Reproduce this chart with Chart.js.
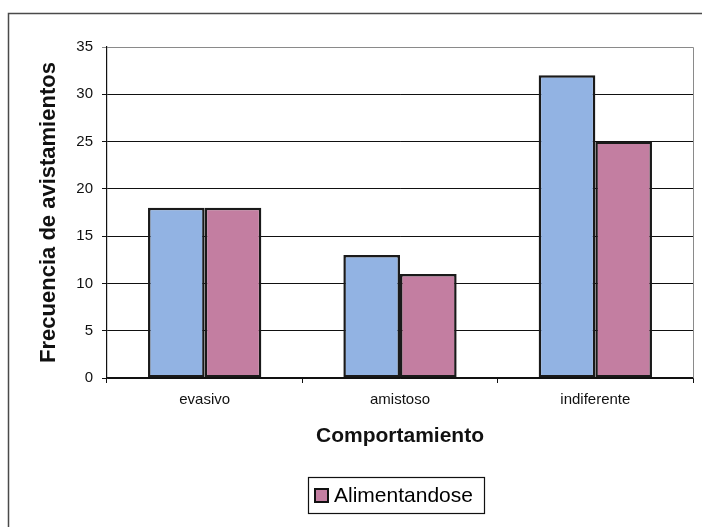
<!DOCTYPE html>
<html>
<head>
<meta charset="utf-8">
<script src="https://cdn.jsdelivr.net/npm/chart.js@4/dist/chart.umd.min.js"></script>
<style>
  html, body { margin: 0; padding: 0; background: #ffffff; }
  #wrap { width: 702px; height: 527px; }
</style>
</head>
<body>
<div id="wrap"><canvas id="c" width="702" height="527"></canvas></div>
<script>
// Categorías del eje X
const categorias = ['evasivo', 'amistoso', 'indiferente'];
// Serie azul (sin entrada en la leyenda)
const serieAzul = [18, 13, 32];
// Serie "Alimentandose"
const serieAlimentandose = [18, 11, 25];
const nombreSerieAzul = 'Serie1';
const nombreSerieRosa = 'Alimentandose';
// Eje Y
const ejeYMin = 0;
const ejeYMax = 35;
const ejeYPaso = 5;
const tituloEjeY = 'Frecuencia de avistamientos';
const tituloEjeX = 'Comportamiento';

const AZUL = '#92b3e3';
const ROSA = '#c37ea1';
const FUENTE = '"Liberation Sans", Arial, Helvetica, sans-serif';

// Marco exterior del gráfico y recuadro de la leyenda
const marcoYLeyenda = {
  id: 'marcoYLeyenda',
  afterDraw(chart) {
    const ctx = chart.ctx;
    const area = chart.chartArea;
    ctx.save();
    // borde del área de trazado (arriba y derecha)
    ctx.strokeStyle = '#8a8a8a';
    ctx.lineWidth = 1;
    ctx.beginPath();
    ctx.moveTo(area.left, area.top + 0.5);
    ctx.lineTo(area.right + 0.5, area.top + 0.5);
    ctx.lineTo(area.right + 0.5, area.bottom);
    ctx.stroke();

    // marco exterior
    ctx.strokeStyle = '#4a4a4a';
    ctx.lineWidth = 1.5;
    ctx.beginPath();
    ctx.moveTo(8.5, 527);
    ctx.lineTo(8.5, 13.5);
    ctx.lineTo(702, 13.5);
    ctx.stroke();

    // leyenda: sólo la serie rosa
    const ds = chart.data.datasets[1];
    const bx = 308, by = 477, bw = 176, bh = 36;
    ctx.strokeStyle = '#111';
    ctx.lineWidth = 1.2;
    ctx.strokeRect(bx + 0.5, by + 0.5, bw, bh);
    const cy = by + bh / 2 + 0.5;
    ctx.fillStyle = ds.backgroundColor;
    ctx.fillRect(315, cy - 6.5, 13, 13);
    ctx.strokeStyle = '#111';
    ctx.lineWidth = 2;
    ctx.strokeRect(315, cy - 6.5, 13, 13);
    ctx.fillStyle = '#000';
    ctx.font = '21px ' + FUENTE;
    ctx.textAlign = 'left';
    ctx.textBaseline = 'middle';
    ctx.fillText(ds.label, 334, cy + 1);
    ctx.restore();
  }
};

new Chart(document.getElementById('c'), {
  type: 'bar',
  data: {
    labels: categorias,
    datasets: [
      {
        label: nombreSerieAzul,
        data: serieAzul,
        backgroundColor: AZUL,
        borderColor: '#1a1a1a',
        borderWidth: 2.5,
        borderSkipped: false,
        categoryPercentage: 0.58,
        barPercentage: 1.0
      },
      {
        label: nombreSerieRosa,
        data: serieAlimentandose,
        backgroundColor: ROSA,
        borderColor: '#1a1a1a',
        borderWidth: 2.5,
        borderSkipped: false,
        categoryPercentage: 0.58,
        barPercentage: 1.0
      }
    ]
  },
  options: {
    responsive: false,
    animation: false,
    devicePixelRatio: 1,
    layout: { padding: { top: 47, right: 9, left: 0, bottom: 78 } },
    plugins: {
      legend: { display: false },
      tooltip: { enabled: false }
    },
    scales: {
      x: {
        afterFit(scale) { scale.height = 71; },
        border: { display: true, color: '#111', width: 1.2 },
        grid: {
          offset: true,
          drawOnChartArea: false,
          drawTicks: true,
          tickLength: 5,
          color: '#111'
        },
        ticks: {
          color: '#111',
          padding: 8,
          font: { family: FUENTE, size: 15 }
        },
        title: {
          display: true,
          text: tituloEjeX,
          color: '#111',
          padding: { top: 0, bottom: 0 },
          font: { family: FUENTE, size: 21, weight: 'bold' }
        }
      },
      y: {
        min: ejeYMin,
        max: ejeYMax,
        afterFit(scale) { scale.width = 107; },
        border: { display: true, color: '#111', width: 1.2 },
        grid: {
          drawTicks: true,
          tickLength: 5,
          color: (c) => (c.tick && c.tick.value === ejeYMax ? '#8a8a8a' : '#111'),
          lineWidth: 1
        },
        ticks: {
          stepSize: ejeYPaso,
          color: '#111',
          padding: 9,
          font: { family: FUENTE, size: 15 }
        },
        title: {
          display: true,
          text: tituloEjeY,
          color: '#111',
          padding: { top: 36, bottom: 0 },
          font: { family: FUENTE, size: 22, weight: 'bold' }
        }
      }
    }
  },
  plugins: [marcoYLeyenda]
});
</script>
</body>
</html>
